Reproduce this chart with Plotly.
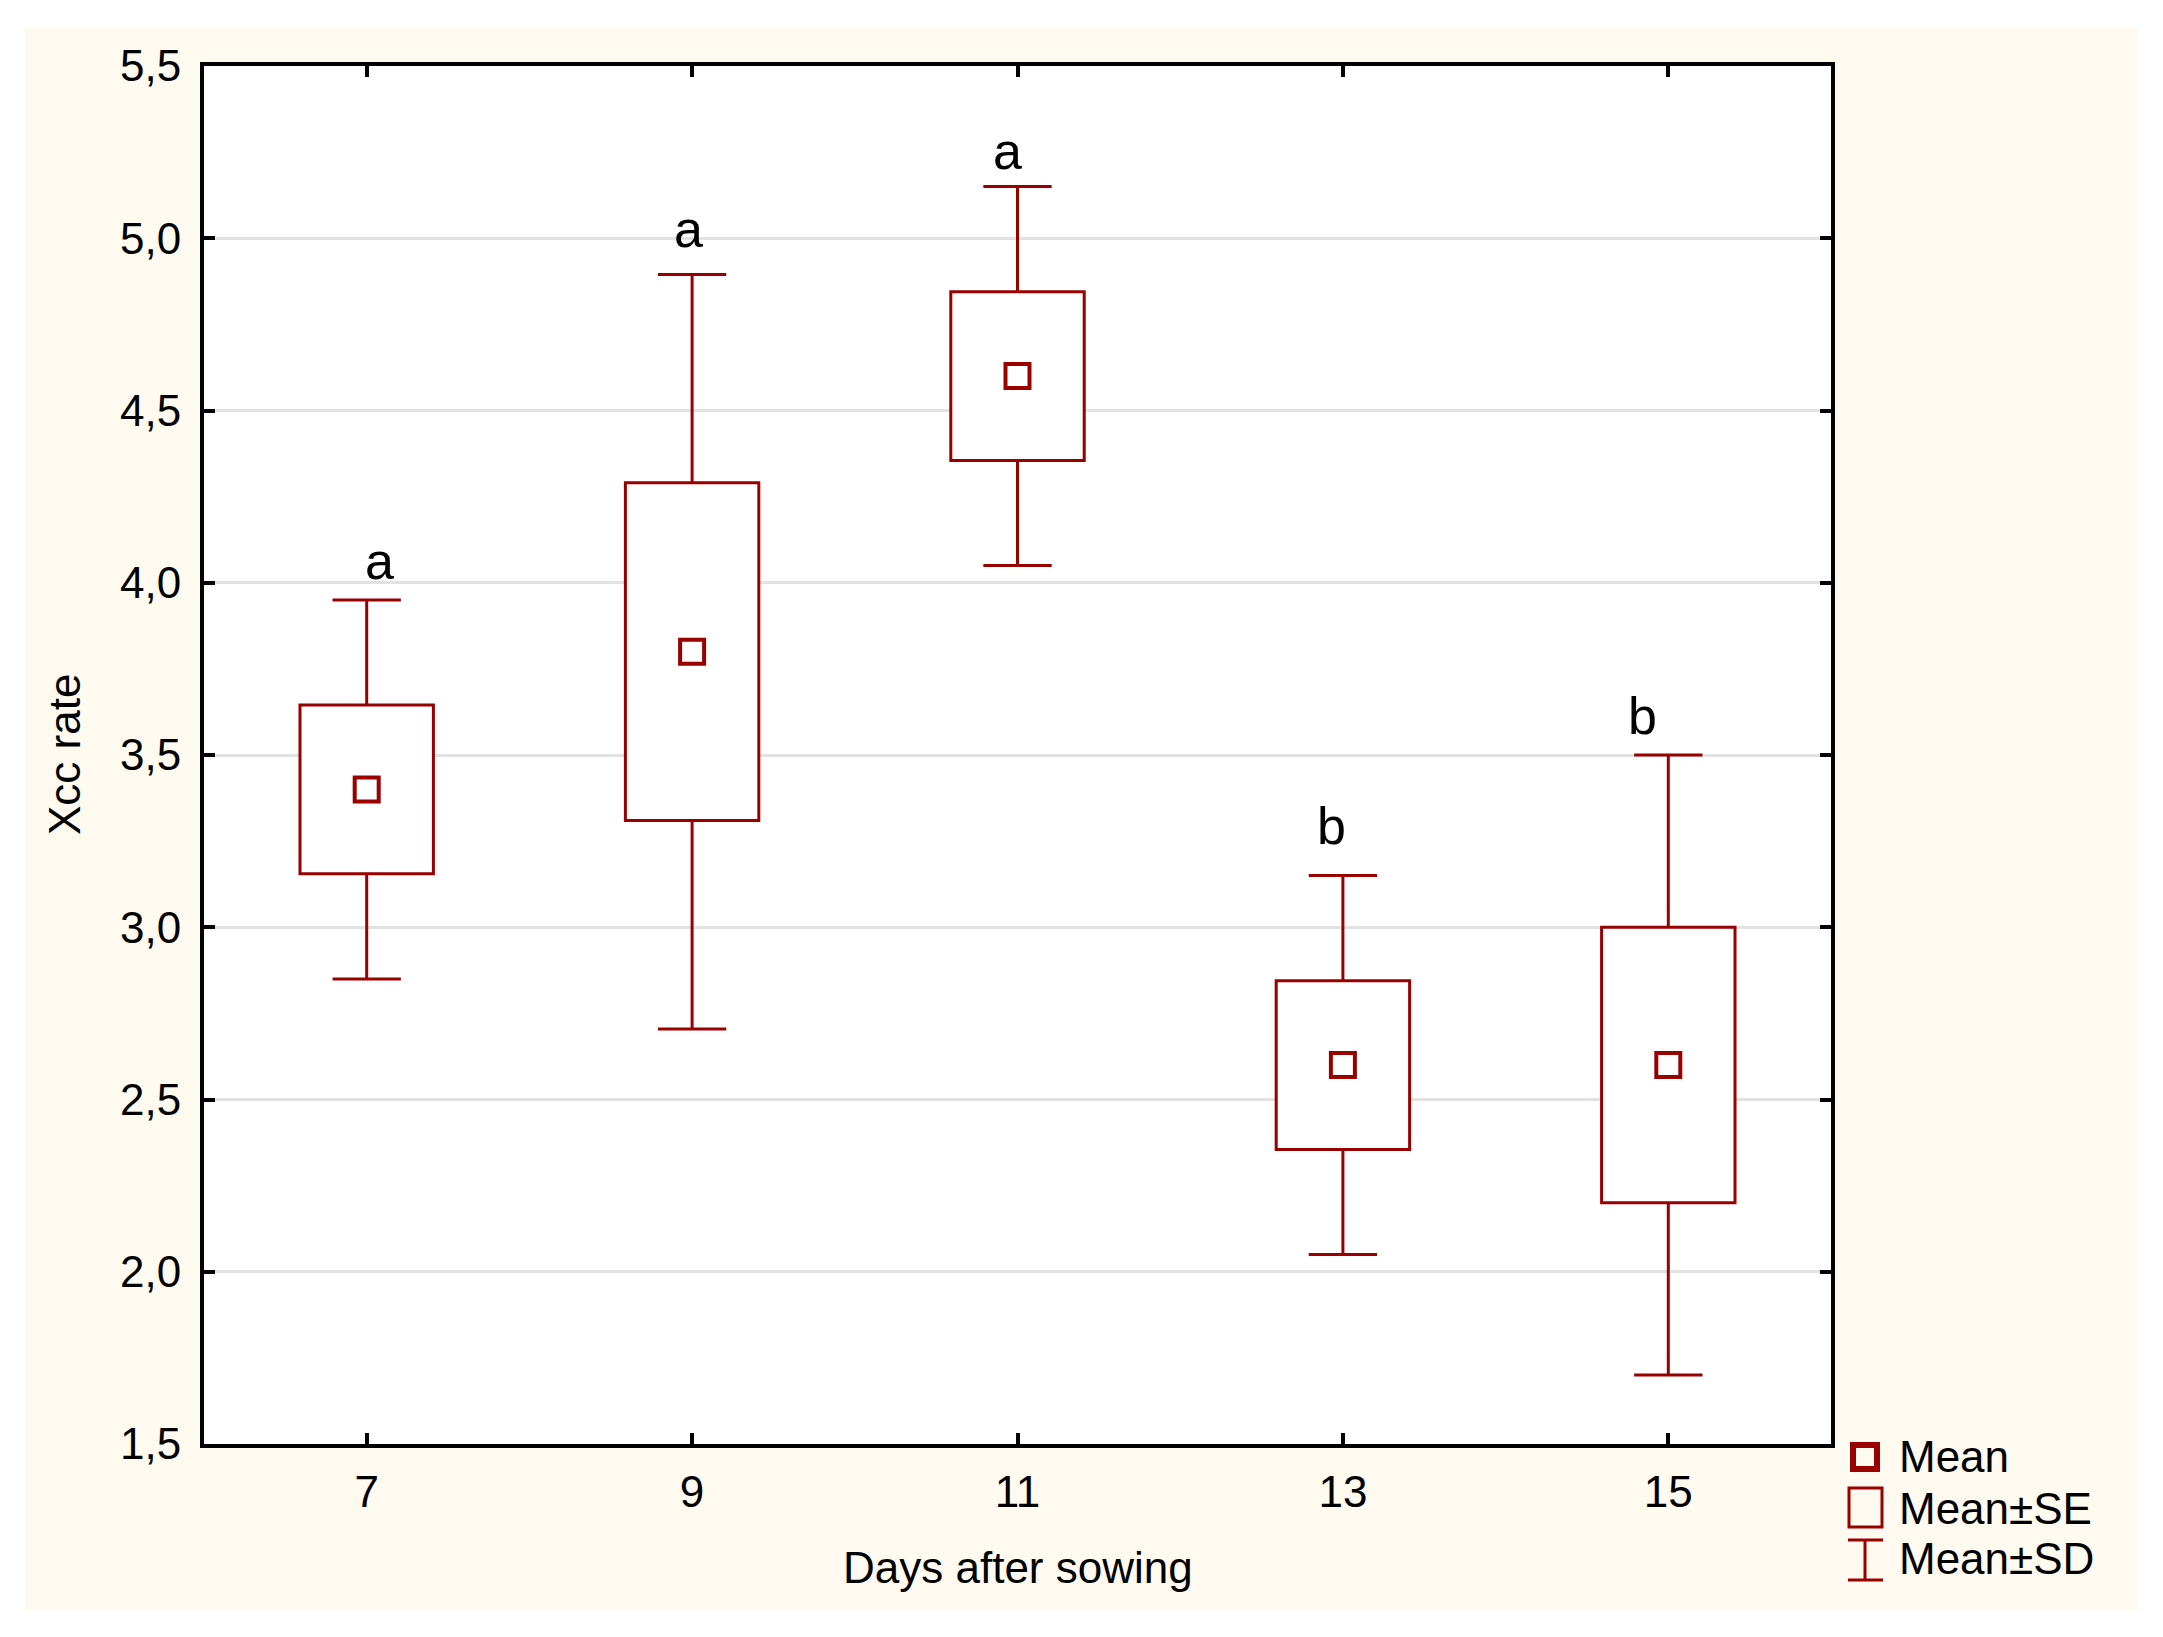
import plotly.graph_objects as go

# ---- data ----
days = [7, 9, 11, 13, 15]
means = [3.40, 3.80, 4.60, 2.60, 2.60]
se = [0.245, 0.49, 0.245, 0.245, 0.40]
sd = [0.55, 1.095, 0.55, 0.55, 0.90]
letters = ["a", "a", "a", "b", "b"]
letter_x = [7.08, 8.975, 10.94, 12.93, 14.84]
letter_y = [4.017, 4.980, 5.206, 3.247, 3.568]   # baseline of each letter
y_ticks = [1.5, 2.0, 2.5, 3.0, 3.5, 4.0, 4.5, 5.0, 5.5]
legend_labels = ["Mean", "Mean±SE", "Mean±SD"]

# ---- geometry / style ----
W, H = 2163, 1637
L, R, T, B = 204, 332, 66, 193
pw = W - L - R
ph = H - T - B
RED = "#990000"
CREAM = "#FFFAEF"
FONT = "Arial, 'Liberation Sans', sans-serif"
FS = 44
LETTER_FS = 52
BOX_W = 0.82
CAP = 0.21


def px_x(px):
    return (px - L) / pw


def px_y(py):
    return (H - B - py) / ph


fig = go.Figure()

# Mean ± SE boxes
fig.add_trace(go.Bar(
    x=days,
    y=[2 * s for s in se],
    base=[m - s for m, s in zip(means, se)],
    width=BOX_W,
    marker=dict(color="white", line=dict(color=RED, width=3)),
    showlegend=False, hoverinfo="skip",
))

# Mean ± SD whiskers
wx, wy = [], []
for d, m, s, e in zip(days, means, se, sd):
    wx += [d, d, None, d, d, None, d - CAP, d + CAP, None, d - CAP, d + CAP, None]
    wy += [m + s, m + e, None, m - s, m - e, None, m + e, m + e, None, m - e, m - e, None]
fig.add_trace(go.Scatter(
    x=wx, y=wy, mode="lines",
    line=dict(color=RED, width=3),
    showlegend=False, hoverinfo="skip",
))

# Means
fig.add_trace(go.Scatter(
    x=days, y=means, mode="markers",
    marker=dict(symbol="square-open", size=24, color=RED, line=dict(color=RED, width=4)),
    showlegend=False,
))

annotations = []
for lx, ly, lt in zip(letter_x, letter_y, letters):
    annotations.append(dict(
        x=lx, y=ly, xref="x", yref="y", text=lt, showarrow=False,
        yanchor="middle", xanchor="center", yshift=16,
        font=dict(family=FONT, size=LETTER_FS, color="black"),
    ))

# Axis titles
annotations.append(dict(
    x=0.5, y=px_y(1567), xref="paper", yref="paper", text="Days after sowing",
    showarrow=False, xanchor="center", yanchor="middle",
    font=dict(family=FONT, size=FS, color="black"),
))
annotations.append(dict(
    x=px_x(64), y=0.5, xref="paper", yref="paper", text="Xcc rate",
    showarrow=False, xanchor="center", yanchor="middle", textangle=-90,
    font=dict(family=FONT, size=FS, color="black"),
))

# Custom legend text
for lab, cy in zip(legend_labels, [1456, 1508, 1559]):
    annotations.append(dict(
        x=px_x(1897), y=px_y(cy), xref="paper", yref="paper", text=lab,
        showarrow=False, xanchor="left", yanchor="middle",
        font=dict(family=FONT, size=FS, color="black"),
    ))

shapes = []
# white outer border around the cream panel
for x0, y0, x1, y1 in [(0, 0, W, 28), (0, 1610, W, H), (0, 0, 25, H), (2138, 0, W, H)]:
    shapes.append(dict(type="rect", xref="paper", yref="paper",
                       x0=px_x(x0), x1=px_x(x1), y0=px_y(y1), y1=px_y(y0),
                       fillcolor="white", line=dict(width=0), layer="above"))
# legend symbols
shapes.append(dict(type="rect", xref="paper", yref="paper",
                   x0=px_x(1853), x1=px_x(1877), y0=px_y(1469), y1=px_y(1445),
                   line=dict(color=RED, width=6), fillcolor="rgba(0,0,0,0)"))
shapes.append(dict(type="rect", xref="paper", yref="paper",
                   x0=px_x(1849), x1=px_x(1882), y0=px_y(1527), y1=px_y(1488),
                   line=dict(color=RED, width=3), fillcolor="rgba(0,0,0,0)"))
for x0, y0, x1, y1 in [(1848, 1540, 1883, 1540), (1848, 1580, 1883, 1580), (1865, 1540, 1865, 1580)]:
    shapes.append(dict(type="line", xref="paper", yref="paper",
                       x0=px_x(x0), x1=px_x(x1), y0=px_y(y0), y1=px_y(y1),
                       line=dict(color=RED, width=3)))

axis_common = dict(
    ticks="inside", ticklen=11, tickwidth=4, tickcolor="black",
    showline=True, linecolor="black", linewidth=4, mirror="ticks",
    zeroline=False,
    tickfont=dict(family=FONT, size=FS, color="black"),
)

fig.update_layout(
    width=W, height=H,
    margin=dict(l=L, r=R, t=T, b=B, pad=0),
    paper_bgcolor=CREAM, plot_bgcolor="white",
    separators=", ",
    showlegend=False,
    xaxis=dict(range=[6, 16], tickvals=days, showgrid=False,
               ticklabelstandoff=6, **axis_common),
    yaxis=dict(range=[1.5, 5.5], tickvals=y_ticks, tickformat=".1f",
               showgrid=True, gridcolor="#E2E2E2", gridwidth=3,
               ticklabelstandoff=10, **axis_common),
    annotations=annotations,
    shapes=shapes,
    font=dict(family=FONT, size=FS, color="black"),
)

fig.write_html(
    "out.html",
    config={"displayModeBar": False},
    post_script="document.body.style.margin='0';document.body.style.overflow='hidden';",
)
